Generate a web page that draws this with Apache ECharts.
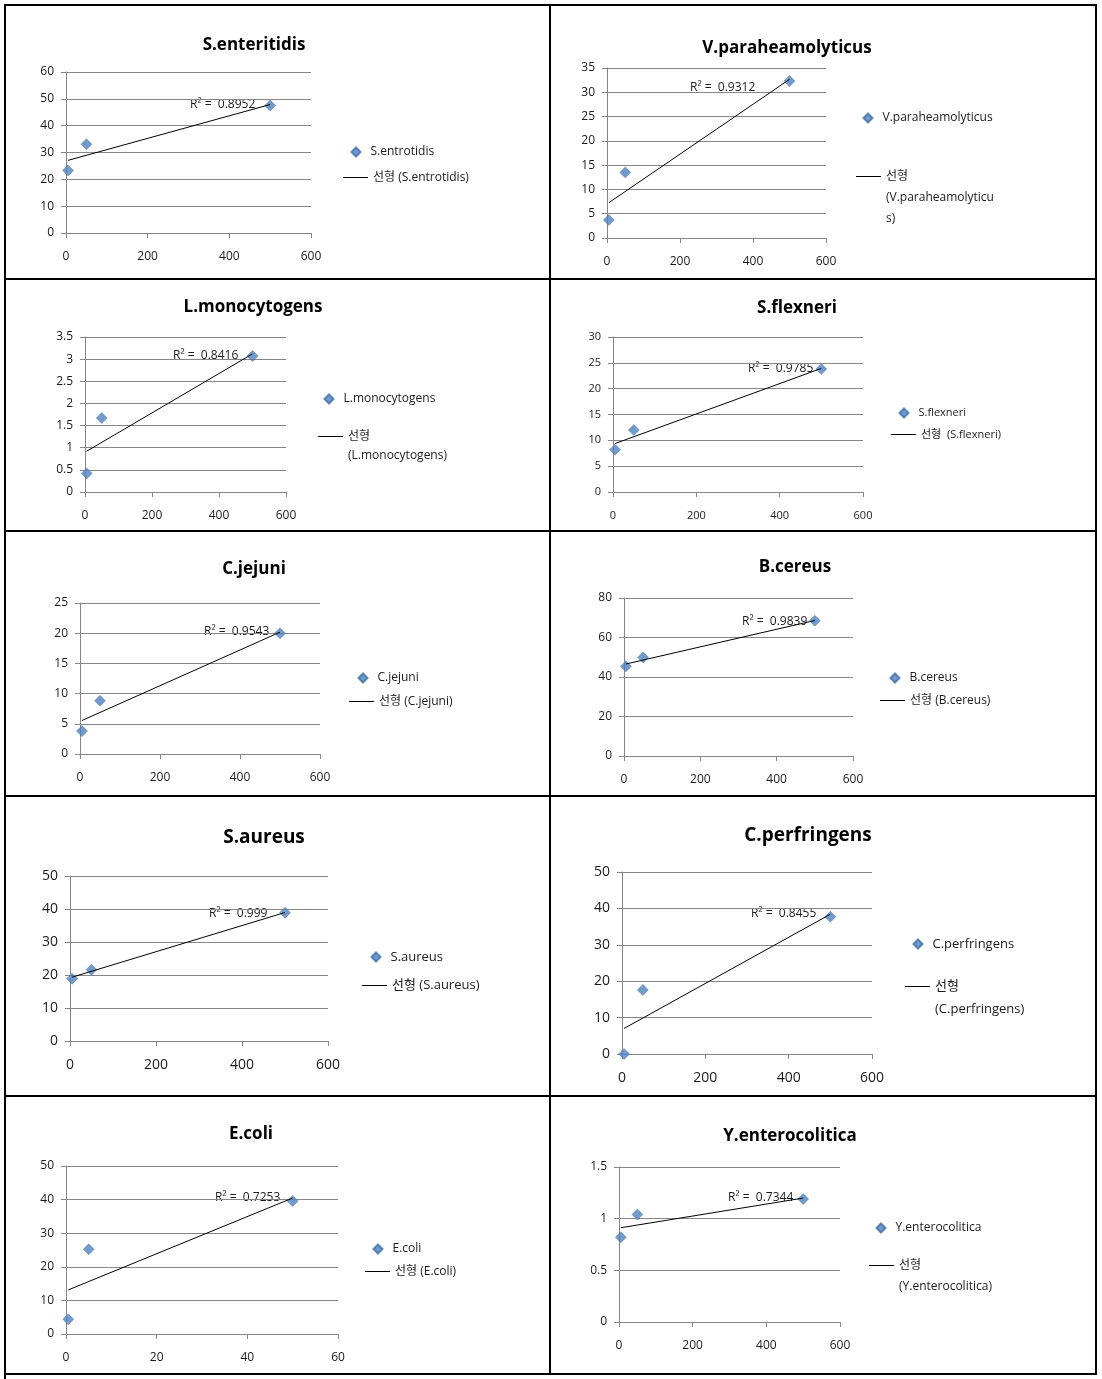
<!DOCTYPE html>
<html><head><meta charset="utf-8">
<script src="https://cdn.jsdelivr.net/npm/echarts@6/dist/echarts.min.js"></script>
<style>html,body{margin:0;padding:0;background:#fff}#c{width:1102px;height:1379px}</style>
</head><body><div id="c"></div><script>
// ---------------- data ----------------
const concentration = [5, 50, 500];
const concentrationEcoli = [0.5, 5, 50];

const sEnteritidis = [23.3, 33.1, 47.5];
const vParaheamolyticus = [3.7, 13.5, 32.3];
const lMonocytogens = [0.42, 1.67, 3.07];
const sFlexneri = [8.2, 12.0, 23.8];
const cJejuni = [3.8, 8.8, 20.0];
const bCereus = [45.4, 49.9, 68.5];
const sAureus = [18.9, 21.6, 38.9];
const cPerfringens = [0, 17.6, 37.7];
const eColi = [4.4, 25.2, 39.6];
const yEnterocolitica = [0.82, 1.04, 1.19];

const titles = ['S.enteritidis', 'V.paraheamolyticus', 'L.monocytogens', 'S.flexneri', 'C.jejuni',
  'B.cereus', 'S.aureus', 'C.perfringens', 'E.coli', 'Y.enterocolitica'];
const pointNames = ['S.entrotidis', 'V.paraheamolyticus', 'L.monocytogens', 'S.flexneri', 'C.jejuni',
  'B.cereus', 'S.aureus', 'C.perfringens', 'E.coli', 'Y.enterocolitica'];
const trendNames = pointNames.map(n => '선형 (' + n + ')');
const trendLegendText = ['선형 (S.entrotidis)', '선형\n(V.paraheamolyticu\ns)', '선형\n(L.monocytogens)',
  '선형  (S.flexneri)', '선형 (C.jejuni)', '선형 (B.cereus)', '선형 (S.aureus)', '선형\n(C.perfringens)',
  '선형 (E.coli)', '선형\n(Y.enterocolitica)'];
const r2Values = ['0.8952', '0.9312', '0.8416', '0.9785', '0.9543', '0.9839', '0.999', '0.8455', '0.7253', '0.7344'];
const yValues = [sEnteritidis, vParaheamolyticus, lMonocytogens, sFlexneri, cJejuni, bCereus, sAureus, cPerfringens, eColi, yEnterocolitica];
const xValues = [concentration, concentration, concentration, concentration, concentration, concentration, concentration, concentration, concentrationEcoli, concentration];
const yMaxes = [60, 35, 3.5, 30, 25, 80, 50, 50, 50, 1.5];
const yIntervals = [10, 5, 0.5, 5, 5, 20, 10, 10, 10, 0.5];
const xMaxes = [600, 600, 600, 600, 600, 600, 600, 600, 60, 600];
const xIntervals = [200, 200, 200, 200, 200, 200, 200, 200, 20, 200];

// ---------------- layout (pixels) ----------------
const layout = [
  {grid: [66, 72, 245, 161], title: [254, 45, 17], axisFont: 12, legFont: 12, leg1: [355, 152], leg2: [355, 177], lh: 16, r2: [190, 105]},
  {grid: [607, 68, 219, 170], title: [787, 48, 17], axisFont: 12, legFont: 12, leg1: [867, 118], leg2: [868, 176], lh: 21, r2: [690, 88]},
  {grid: [85, 337, 201, 155], title: [253, 307, 17], axisFont: 12, legFont: 12, leg1: [328, 399], leg2: [330, 436], lh: 19, r2: [173, 356]},
  {grid: [613, 337, 250, 155], title: [797, 308, 17], axisFont: 11, legFont: 11, leg1: [903, 413], leg2: [903, 434], lh: 16, r2: [748, 369]},
  {grid: [80, 603, 240, 151], title: [254, 569, 17], axisFont: 12, legFont: 12, leg1: [362, 678], leg2: [361, 701], lh: 16, r2: [204, 632]},
  {grid: [624, 598, 229, 158], title: [795, 567, 17], axisFont: 12, legFont: 12, leg1: [894, 678], leg2: [892, 700], lh: 16, r2: [742, 622]},
  {grid: [70, 876, 258, 165], title: [264, 838, 19], axisFont: 14, legFont: 13, leg1: [375, 957], leg2: [374, 985], lh: 18, r2: [209, 914]},
  {grid: [622, 872, 250, 182], title: [808, 836, 19], axisFont: 14, legFont: 13, leg1: [917, 944], leg2: [917, 986], lh: 23, r2: [751, 914]},
  {grid: [66, 1166, 272, 168], title: [251, 1134, 17], axisFont: 12, legFont: 12, leg1: [377, 1249], leg2: [377, 1271], lh: 16, r2: [215, 1198]},
  {grid: [619, 1167, 221, 155], title: [790, 1136, 17], axisFont: 12, legFont: 12, leg1: [880, 1228], leg2: [881, 1265], lh: 21, r2: [728, 1198]}
];

const FONT = "'Open Sans','Noto Sans CJK KR',sans-serif";
const AXIS_COLOR = '#868686';
const TEXT_COLOR = '#1a1a1a';
const POINT_COLOR = '#4F81BD';

function linearFit(xs, ys) {
  const n = xs.length;
  const mx = xs.reduce((a, b) => a + b, 0) / n;
  const my = ys.reduce((a, b) => a + b, 0) / n;
  let sxy = 0, sxx = 0;
  for (let i = 0; i < n; i++) { sxy += (xs[i] - mx) * (ys[i] - my); sxx += (xs[i] - mx) * (xs[i] - mx); }
  const b = sxy / sxx, a = my - b * mx;
  return [[xs[0], a + b * xs[0]], [xs[n - 1], a + b * xs[n - 1]]];
}

const grid = [], xAxis = [], yAxis = [], series = [], legend = [], graphic = [];

titles.forEach((t, i) => {
  const L = layout[i];
  grid.push({left: L.grid[0], top: L.grid[1], width: L.grid[2], height: L.grid[3]});
  xAxis.push({
    type: 'value', gridIndex: i, min: 0, max: xMaxes[i], interval: xIntervals[i],
    axisLine: {show: true, lineStyle: {color: AXIS_COLOR, width: 1}},
    axisTick: {show: true, length: 5, lineStyle: {color: AXIS_COLOR}},
    splitLine: {show: false},
    axisLabel: {margin: 18 - (L.axisFont - 12) / 2, fontSize: L.axisFont, fontFamily: FONT, color: TEXT_COLOR}
  });
  yAxis.push({
    type: 'value', gridIndex: i, min: 0, max: yMaxes[i], interval: yIntervals[i],
    axisLine: {show: true, lineStyle: {color: AXIS_COLOR, width: 1}},
    axisTick: {show: true, length: 5, lineStyle: {color: AXIS_COLOR}},
    splitLine: {show: true, lineStyle: {color: AXIS_COLOR, width: 1}},
    axisLabel: {margin: 12, fontSize: L.axisFont, fontFamily: FONT, color: TEXT_COLOR}
  });
  const xs = xValues[i], ys = yValues[i];
  series.push({
    type: 'scatter', name: pointNames[i], xAxisIndex: i, yAxisIndex: i,
    data: xs.map((x, j) => [x, ys[j]]),
    symbol: 'diamond', symbolSize: 11,
    itemStyle: {color: POINT_COLOR, borderColor: '#3f6fa8', borderWidth: 0.5}, z: 2
  });
  series.push({
    type: 'line', name: trendNames[i], xAxisIndex: i, yAxisIndex: i,
    data: linearFit(xs, ys), symbol: 'none',
    lineStyle: {color: '#000', width: 1}, itemStyle: {color: '#000'}, z: 3
  });
  // legend: marker item
  legend.push({
    data: [{name: pointNames[i], icon: 'diamond'}], orient: 'vertical', left: L.leg1[0] - 4.5, top: L.leg1[1] - 8,
    padding: 0, itemWidth: 9, itemHeight: 9, selectedMode: false,
    textStyle: {fontSize: L.legFont, fontFamily: FONT, color: TEXT_COLOR, lineHeight: 16, padding: [0, 0, 0, 5]}
  });
  // legend: trendline item (extra blank lines keep the first text line level with the icon)
  const nLines = trendLegendText[i].split('\n').length;
  const label = '\n'.repeat(nLines - 1) + trendLegendText[i];
  const boxH = (2 * nLines - 1) * L.lh;
  legend.push({
    data: [trendNames[i]], orient: 'vertical', left: L.leg2[0] - 12.5, top: L.leg2[1] - boxH / 2 + 0.5,
    padding: 0, itemWidth: 25, itemHeight: 9, selectedMode: false,
    itemStyle: {opacity: 0},
    lineStyle: {color: '#000', width: 1},
    formatter: () => label,
    textStyle: {fontSize: L.legFont, fontFamily: FONT, color: TEXT_COLOR, lineHeight: L.lh}
  });
  graphic.push({
    type: 'text', x: L.title[0], y: L.title[1],
    style: {text: t, fill: '#000', fontSize: L.title[2], fontWeight: 'bold', fontFamily: FONT, align: 'center', verticalAlign: 'middle'}
  });
  graphic.push({
    type: 'text', x: L.r2[0], y: L.r2[1],
    style: {text: 'R² =  ' + r2Values[i], fill: TEXT_COLOR, fontSize: 12, fontFamily: FONT, align: 'left', verticalAlign: 'middle'}
  });
});

// table borders
const hLines = [5, 279, 531, 796, 1096, 1374];
const vLines = [5, 550, 1096];
hLines.forEach(y => graphic.push({type: 'line', shape: {x1: 4, y1: y, x2: 1097, y2: y}, style: {stroke: '#000', lineWidth: 2}, z: 10}));
vLines.forEach(x => graphic.push({type: 'line', shape: {x1: x, y1: 4, x2: x, y2: x === 5 ? 1379 : 1375}, style: {stroke: '#000', lineWidth: 2}, z: 10}));

const chart = echarts.init(document.getElementById('c'), null, {renderer: 'canvas'});
chart.setOption({
  animation: false,
  backgroundColor: '#fff',
  grid, xAxis, yAxis, series, legend, graphic,
  tooltip: {show: false}
});
</script></body></html>
